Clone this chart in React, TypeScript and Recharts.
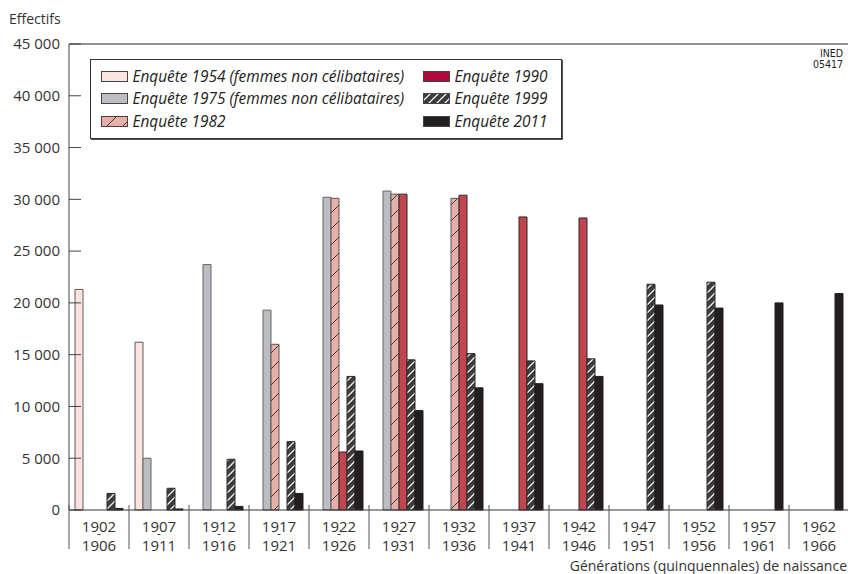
import { Bar, BarChart, Legend, ReferenceLine, XAxis, YAxis } from 'recharts';

const CATEGORIES = [
  '1902-1906', '1907-1911', '1912-1916', '1917-1921', '1922-1926', '1927-1931', '1932-1936',
  '1937-1941', '1942-1946', '1947-1951', '1952-1956', '1957-1961', '1962-1966',
];

// effectifs par enquête (null = génération non couverte)
const ENQ_1954 = [21300, 16200, null, null, null, null, null, null, null, null, null, null, null];
const ENQ_1975 = [null, 5000, 23700, 19300, 30200, 30800, null, null, null, null, null, null, null];
const ENQ_1982 = [null, null, null, 16000, 30100, 30500, 30100, null, null, null, null, null, null];
const ENQ_1990 = [null, null, null, null, 5600, 30500, 30400, 28300, 28200, null, null, null, null];
const ENQ_1999 = [1600, 2100, 4900, 6600, 12900, 14500, 15100, 14400, 14600, 21800, 22000, null, null];
const ENQ_2011 = [150, 100, 350, 1600, 5700, 9600, 11800, 12200, 12900, 19800, 19500, 20000, 20900];

const Y_TICKS = [0, 5000, 10000, 15000, 20000, 25000, 30000, 35000, 40000, 45000];

const CHART_W = 850;
const CHART_H = 574;
const MARGIN = { top: 44, right: 1, bottom: 20, left: 0 };
const Y_AXIS_W = 69;
const BAND = (CHART_W - MARGIN.left - MARGIN.right - Y_AXIS_W) / CATEGORIES.length;

const FONT = '"Open Sans", "Noto Sans", sans-serif';
const TEXT = '#333';

const SERIES = [
  { key: 'e1954', name: 'Enquête 1954 (femmes non célibataires)', fill: '#FBE3E0', stroke: '#5c5c5c', swatch: '#FBE3E0' },
  { key: 'e1975', name: 'Enquête 1975 (femmes non célibataires)', fill: '#BCBDC2', stroke: '#666', swatch: '#BCBDC2' },
  { key: 'e1982', name: 'Enquête 1982', fill: 'url(#hatch1982)', stroke: '#555', swatch: 'url(#hatch1982)' },
  { key: 'e1990', name: 'Enquête 1990', fill: '#C1444F', stroke: '#2a2a2a', swatch: '#B00A3B' },
  { key: 'e1999', name: 'Enquête 1999', fill: 'url(#hatch1999)', stroke: '#2a2a2a', swatch: 'url(#hatch1999)' },
  { key: 'e2011', name: 'Enquête 2011', fill: '#231F20', stroke: '#231F20', swatch: '#231F20' },
];

const data = CATEGORIES.map((name, i) => ({
  name,
  e1954: ENQ_1954[i],
  e1975: ENQ_1975[i],
  e1982: ENQ_1982[i],
  e1990: ENQ_1990[i],
  e1999: ENQ_1999[i],
  e2011: ENQ_2011[i],
}));

const formatThousands = (v: number) => (v === 0 ? '0' : `${v / 1000} 000`);

function GenerationTick({ x, y, payload }: any) {
  const [from, to] = String(payload.value).split('-');
  const left = x - BAND / 2;
  return (
    <g>
      <line x1={left} x2={left} y1={y - 5} y2={y + 39} stroke="#555" />
      <text x={x} y={y + 22} textAnchor="middle" fontSize={15} fill={TEXT} fontFamily={FONT}>
        <tspan x={x}>{from}</tspan>
        <tspan x={x} dy={6} fontSize={12}>-</tspan>
        <tspan x={x} dy={13}>{to}</tspan>
      </text>
    </g>
  );
}

function SurveyLegend() {
  return (
    <div
      style={{
        boxSizing: 'border-box',
        width: 472,
        height: 80,
        border: '1.5px solid #333',
        boxShadow: '1px 1px 0 #555',
        background: '#fff',
        padding: '5px 0 0 9.5px',
        display: 'grid',
        gridTemplateColumns: '322px auto',
        gridTemplateRows: 'repeat(3, 22.5px)',
        gridAutoFlow: 'column',
      }}
    >
      {SERIES.map((s) => (
        <div key={s.key} style={{ display: 'flex', alignItems: 'center', gap: 5 }}>
          <svg width={27} height={11} style={{ flex: 'none' }}>
            <rect x={0.5} y={0.5} width={26} height={10} fill={s.swatch} stroke="#444" />
          </svg>
          <span style={{ fontStyle: 'italic', fontSize: 15.4, color: '#222', fontFamily: FONT, whiteSpace: 'nowrap' }}>
            {s.name}
          </span>
        </div>
      ))}
    </div>
  );
}

export default function App() {
  return (
    <div
      style={{
        position: 'fixed',
        left: 0,
        top: 0,
        width: 848,
        height: CHART_H,
        overflow: 'hidden',
        background: '#fff',
        fontFamily: FONT,
      }}
    >
      <svg width={0} height={0} style={{ position: 'absolute' }}>
        <defs>
          <pattern id="hatch1982" patternUnits="userSpaceOnUse" width={16} height={16}>
            <rect width={16} height={16} fill="#E7AFA8" />
            <path d="M0,16 L16,0 M-2,2 L2,-2 M14,18 L18,14" stroke="#3a3a3a" strokeWidth={1} />
          </pattern>
          <pattern id="hatch1999" patternUnits="userSpaceOnUse" width={8} height={8}>
            <rect width={8} height={8} fill="#3b3b3b" />
            <path d="M0,8 L8,0 M-2,2 L2,-2 M6,10 L10,6" stroke="#f2f2f2" strokeWidth={1.3} />
          </pattern>
        </defs>
      </svg>

      <div style={{ position: 'absolute', left: 9, top: 9, fontSize: 14, lineHeight: '20px', color: TEXT }}>
        Effectifs
      </div>

      <div
        style={{
          position: 'absolute',
          right: 5,
          top: 48,
          fontSize: 10.5,
          lineHeight: '11px',
          textAlign: 'right',
          color: '#222',
          fontFamily: '"Liberation Sans Narrow", "DejaVu Sans Condensed", sans-serif',
        }}
      >
        INED
        <br />
        05417
      </div>

      <BarChart
        width={CHART_W}
        height={CHART_H}
        data={data}
        margin={MARGIN}
        barCategoryGap={6}
        barGap={0}
      >
        <XAxis
          dataKey="name"
          interval={0}
          height={44}
          tickLine={false}
          tickSize={0}
          tickMargin={0}
          axisLine={{ stroke: '#333' }}
          tick={(props: any) => <GenerationTick {...props} />}
        />
        <YAxis
          yAxisId="left"
          width={Y_AXIS_W}
          domain={[0, 45000]}
          ticks={Y_TICKS}
          interval={0}
          tickSize={-12}
          tickMargin={21}
          tickFormatter={formatThousands}
          tick={{ fontSize: 15, fill: TEXT, fontFamily: FONT }}
          tickLine={{ stroke: '#444' }}
          axisLine={{ stroke: '#444' }}
        />
        <YAxis
          yAxisId="right"
          orientation="right"
          width={0}
          domain={[0, 45000]}
          ticks={Y_TICKS}
          interval={0}
          tickSize={-12}
          tick={() => <g />}
          tickLine={{ stroke: '#555' }}
          axisLine={false}
        />
        <ReferenceLine yAxisId="left" y={45000} stroke="#222" />
        <Legend
          layout="horizontal"
          verticalAlign="middle"
          align="center"
          wrapperStyle={{ left: 90, top: 59, width: 472, height: 80 }}
          content={() => <SurveyLegend />}
        />
        {SERIES.map((s) => (
          <Bar
            key={s.key}
            yAxisId="left"
            dataKey={s.key}
            name={s.name}
            fill={s.fill}
            stroke={s.stroke}
            strokeWidth={1}
            isAnimationActive={false}
          />
        ))}
      </BarChart>

      <div
        style={{
          position: 'absolute',
          right: 1,
          top: 556,
          fontSize: 14,
          lineHeight: '20px',
          color: TEXT,
          whiteSpace: 'nowrap',
        }}
      >
        Générations (quinquennales) de naissance
      </div>
    </div>
  );
}
